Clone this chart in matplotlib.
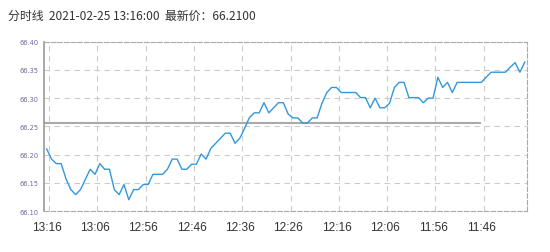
import matplotlib
matplotlib.use("Agg")
import matplotlib.pyplot as plt

plt.rcParams['font.family'] = ['Noto Sans CJK SC', 'DejaVu Sans']

title = "分时线  2021-02-25 13:16:00  最新价：66.2100"

prices = [
    66.210, 66.192, 66.184, 66.184, 66.157, 66.138, 66.129, 66.138, 66.156, 66.174,
    66.165, 66.184, 66.174, 66.174, 66.138, 66.129, 66.147, 66.120, 66.138, 66.138,
    66.147, 66.147, 66.165, 66.165, 66.165, 66.174, 66.192, 66.192, 66.174, 66.174,
    66.183, 66.183, 66.201, 66.192, 66.211, 66.220, 66.229, 66.238, 66.238, 66.220,
    66.229, 66.247, 66.266, 66.274, 66.274, 66.292, 66.274, 66.283, 66.292, 66.292,
    66.272, 66.265, 66.265, 66.256, 66.256, 66.265, 66.265, 66.291, 66.310, 66.319,
    66.319, 66.310, 66.310, 66.310, 66.310, 66.301, 66.301, 66.283, 66.300, 66.283,
    66.283, 66.291, 66.319, 66.328, 66.328, 66.301, 66.301, 66.301, 66.292, 66.300,
    66.300, 66.337, 66.319, 66.328, 66.310, 66.328, 66.328, 66.328, 66.328, 66.328,
    66.328, 66.337, 66.346, 66.346, 66.346, 66.346, 66.355, 66.363, 66.346, 66.364,
]
ref_price = 66.2565
ref_len = 91
time_labels = ["13:16", "13:06", "12:56", "12:46", "12:36",
               "12:26", "12:16", "12:06", "11:56", "11:46"]
y_ticks = [66.10, 66.15, 66.20, 66.25, 66.30, 66.35, 66.40]

fig = plt.figure(figsize=(5.5, 2.53), dpi=100)
ax = fig.add_axes([0.0805, 0.162, 0.878, 0.669])

x = list(range(len(prices)))
ax.plot(x, prices, color='#3398db', linewidth=1.0, zorder=3)
ax.hlines(ref_price, -0.5, ref_len - 1, color='#aaaaaa', linewidth=1.5, zorder=2)

ax.set_xlim(-0.5, len(prices) - 0.5)
ax.set_ylim(66.10, 66.40)

ax.set_xticks(range(0, len(prices), 10))
ax.set_xticklabels(time_labels, fontsize=8.6, color='#333333', family=['Liberation Sans'])
ax.set_xticks([i + 0.5 for i in range(0, len(prices), 10)], minor=True)
ax.tick_params(axis='x', which='both', length=0, pad=7)

ax.set_yticks(y_ticks)
ax.set_yticklabels(["%.2f" % v for v in y_ticks], fontsize=4.8, color='#6a6a9a',
                   family=['DejaVu Sans'])
ax.tick_params(axis='y', length=0, pad=4)

ax.grid(True, which='minor', axis='x', color='#cccccc', linestyle=(0, (5, 4)), linewidth=0.8)
ax.grid(True, which='major', axis='y', color='#cccccc', linestyle=(0, (5, 4)), linewidth=0.8)
ax.grid(False, which='major', axis='x')

ax.spines['left'].set_color('#999999')
ax.spines['left'].set_linewidth(1.2)
for side in ['top', 'right', 'bottom']:
    ax.spines[side].set_color('#aaaaaa')
    ax.spines[side].set_linestyle((0, (4, 2)))
    ax.spines[side].set_linewidth(0.8)

fig.text(0.015, 0.935, title, fontsize=8.6, color='#333333', va='center', ha='left')

fig.savefig("out.png", dpi=100)
